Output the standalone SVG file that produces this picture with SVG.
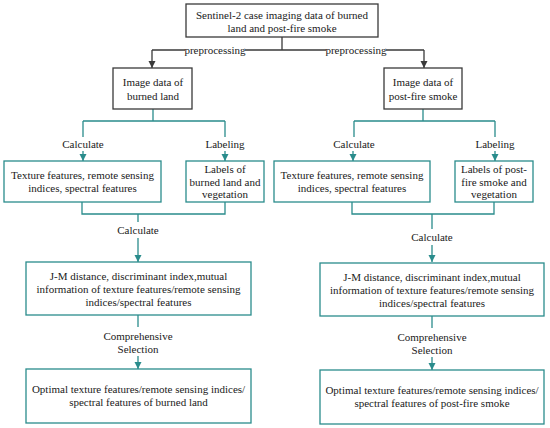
<svg xmlns="http://www.w3.org/2000/svg" width="550" height="428" viewBox="0 0 550 428">
<style>
text{font-family:"Liberation Serif","Times New Roman","DejaVu Serif",serif;font-size:11px;fill:#1a1a1a;text-anchor:middle}
.bk{fill:#fff;stroke:#3a3a3a;stroke-width:1.3}
.tl{fill:#fff;stroke:#2a8c8c;stroke-width:1.3}
.cb{fill:none;stroke:#3a3a3a;stroke-width:1.3}
.ct{fill:none;stroke:#2a8c8c;stroke-width:1.3}
</style>
<defs>
<marker id="ab" markerUnits="userSpaceOnUse" markerWidth="8" markerHeight="8" refX="7" refY="4" orient="auto"><path d="M0,0.5 L7,4 L0,7.5 Z" fill="#3a3a3a"/></marker>
<marker id="at" markerUnits="userSpaceOnUse" markerWidth="8" markerHeight="8" refX="7" refY="4" orient="auto"><path d="M0,0.5 L7,4 L0,7.5 Z" fill="#2a8c8c"/></marker>
</defs>
<rect width="550" height="428" fill="#fff"/>
<g id="connectors">
<path class="cb" d="M282,37 V50 M152,50 H185 M245,50 H326 M386,50 H424"/>
<path class="cb" d="M152,50 V68" marker-end="url(#ab)"/>
<path class="cb" d="M424,50 V68" marker-end="url(#ab)"/>
<text x="215" y="54">preprocessing</text>
<text x="356" y="54">preprocessing</text>
<path class="ct" d="M153,109 V121 M83,121 H225 M83,121 V137 M225,121 V137"/>
<path class="ct" d="M83,151 V161" marker-end="url(#at)"/>
<path class="ct" d="M225,151 V161" marker-end="url(#at)"/>
<text x="83" y="148">Calculate</text>
<text x="225" y="148">Labeling</text>
<path class="ct" d="M423,109 V121 M354,121 H495 M354,121 V137 M495,121 V137"/>
<path class="ct" d="M353,151 V161" marker-end="url(#at)"/>
<path class="ct" d="M495,151 V161" marker-end="url(#at)"/>
<text x="354" y="148">Calculate</text>
<text x="495" y="148">Labeling</text>
<path class="ct" d="M82,202 V214 H225 V202 M138,214 V222"/>
<path class="ct" d="M138,238 V262" marker-end="url(#at)"/>
<text x="138" y="234">Calculate</text>
<path class="ct" d="M352,202 V214 H494 V202 M432,214 V229"/>
<path class="ct" d="M432,245 V262" marker-end="url(#at)"/>
<text x="432" y="241">Calculate</text>
<path class="ct" d="M138,315 V327"/>
<path class="ct" d="M138,356 V369" marker-end="url(#at)"/>
<text x="138" y="340">Comprehensive</text>
<text x="138" y="353">Selection</text>
<path class="ct" d="M432,316 V328"/>
<path class="ct" d="M432,357 V370" marker-end="url(#at)"/>
<text x="432" y="341">Comprehensive</text>
<text x="432" y="354">Selection</text>
</g>
<g id="source">
<rect class="bk" x="186" y="4" width="192" height="33"/>
<text x="282" y="19">Sentinel-2 case imaging data of burned</text>
<text x="282" y="32">land and post-fire smoke</text>
</g>
<g id="img-burned">
<rect class="bk" x="113" y="68" width="79" height="41"/>
<text x="153" y="86">Image data of</text>
<text x="153" y="100">burned land</text>
</g>
<g id="img-smoke">
<rect class="bk" x="384" y="68" width="78" height="41"/>
<text x="423" y="86">Image data of</text>
<text x="423" y="100">post-fire smoke</text>
</g>
<g id="feat-burned">
<rect class="tl" x="4" y="161" width="157" height="41"/>
<text x="82.5" y="179">Texture features, remote sensing</text>
<text x="82.5" y="192">indices, spectral features</text>
</g>
<g id="labels-burned">
<rect class="tl" x="186" y="161" width="78" height="41"/>
<text x="225" y="173">Labels of</text>
<text x="225" y="185.5">burned land and</text>
<text x="225" y="198">vegetation</text>
</g>
<g id="feat-smoke">
<rect class="tl" x="274" y="161" width="156" height="41"/>
<text x="352" y="179">Texture features, remote sensing</text>
<text x="352" y="192">indices, spectral features</text>
</g>
<g id="labels-smoke">
<rect class="tl" x="455" y="161" width="78" height="41"/>
<text x="494" y="173">Labels of post-</text>
<text x="494" y="185.5">fire smoke and</text>
<text x="494" y="198">vegetation</text>
</g>
<g id="jm-burned">
<rect class="tl" x="26" y="262" width="225" height="53"/>
<text x="138.5" y="280">J-M distance, discriminant index,mutual</text>
<text x="138.5" y="293">information of texture features/remote sensing</text>
<text x="138.5" y="306">indices/spectral features</text>
</g>
<g id="jm-smoke">
<rect class="tl" x="320" y="263" width="224" height="53"/>
<text x="432" y="281">J-M distance, discriminant index,mutual</text>
<text x="432" y="294">information of texture features/remote sensing</text>
<text x="432" y="307">indices/spectral features</text>
</g>
<g id="opt-burned">
<rect class="tl" x="26" y="369" width="225" height="54"/>
<text x="138.5" y="393">Optimal texture features/remote sensing indices/</text>
<text x="138.5" y="406">spectral features of burned land</text>
</g>
<g id="opt-smoke">
<rect class="tl" x="320" y="370" width="224" height="54"/>
<text x="432" y="394">Optimal texture features/remote sensing indices/</text>
<text x="432" y="407">spectral features of post-fire smoke</text>
</g>
</svg>
